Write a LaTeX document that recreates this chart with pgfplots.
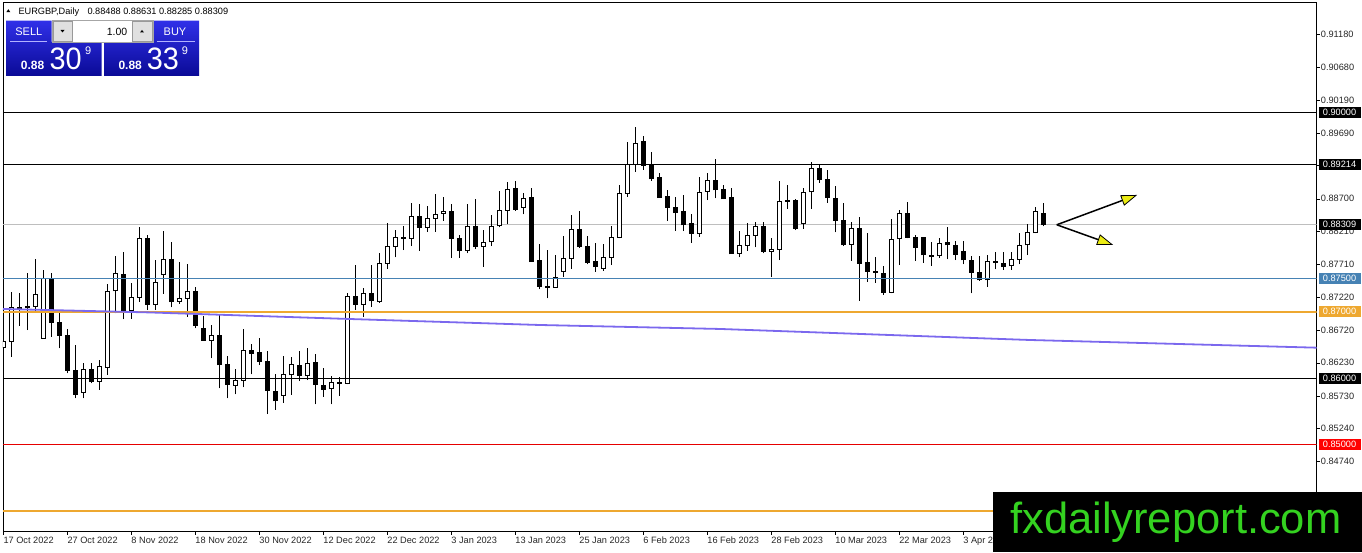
\documentclass[border=0pt]{standalone}
\usepackage{fontspec}
\setmainfont{Liberation Sans}
\usepackage{pgfplots}
\pgfplotsset{compat=1.18}
\usepackage{pgfplotstable}
\usetikzlibrary{arrows.meta}

\definecolor{steel}{RGB}{70,130,180}
\definecolor{orng}{RGB}{238,168,48}
\definecolor{redl}{RGB}{230,0,0}
\definecolor{mslate}{RGB}{123,104,238}
\definecolor{silv}{RGB}{190,190,190}
\definecolor{btop}{RGB}{48,48,232}
\definecolor{bbot}{RGB}{10,10,150}
\definecolor{wmgreen}{RGB}{52,210,32}
\definecolor{arrowyel}{RGB}{235,235,20}

\newcommand\lab{\fontsize{9.2}{11}\selectfont}

% i  open  high  low  close
\pgfplotstableread{
i O H L C
0 0.86463 0.86850 0.85771 0.86549
1 0.86549 0.87302 0.86323 0.87066
2 0.87066 0.87277 0.86785 0.87051
3 0.87086 0.87578 0.86724 0.87056
4 0.87076 0.87789 0.87016 0.87267
5 0.86599 0.87628 0.86599 0.87497
6 0.87497 0.87578 0.86624 0.86835
7 0.86840 0.86975 0.86448 0.86639
8 0.86649 0.86740 0.86072 0.86112
9 0.86122 0.86499 0.85695 0.85756
10 0.85781 0.86233 0.85695 0.86137
11 0.86137 0.86223 0.85921 0.85946
12 0.85946 0.86273 0.85821 0.86172
13 0.86162 0.87412 0.86047 0.87312
14 0.87312 0.87839 0.86975 0.87578
15 0.87568 0.87904 0.86885 0.87016
16 0.87016 0.87437 0.86895 0.87216
17 0.87216 0.88281 0.87151 0.88105
18 0.88105 0.88155 0.87026 0.87111
19 0.87111 0.87779 0.87026 0.87442
20 0.87563 0.88215 0.87267 0.87789
21 0.87789 0.88050 0.87066 0.87151
22 0.87156 0.87743 0.87116 0.87201
23 0.87201 0.87718 0.86925 0.87312
24 0.87312 0.87377 0.86750 0.86790
25 0.86755 0.86940 0.86564 0.86564
26 0.86564 0.86800 0.86298 0.86644
27 0.86649 0.86965 0.85846 0.86197
28 0.86212 0.86333 0.85695 0.85906
29 0.85891 0.86132 0.85756 0.85966
30 0.85961 0.86740 0.85861 0.86418
31 0.86418 0.86509 0.86057 0.86368
32 0.86383 0.86599 0.86197 0.86248
33 0.86258 0.86408 0.85459 0.85811
34 0.85806 0.86057 0.85520 0.85655
35 0.85736 0.86333 0.85630 0.86057
36 0.86047 0.86323 0.85746 0.86207
37 0.86192 0.86408 0.85956 0.86037
38 0.86042 0.86458 0.85971 0.86222
39 0.86243 0.86368 0.85605 0.85906
40 0.85896 0.86147 0.85720 0.85831
41 0.85846 0.86032 0.85605 0.85936
42 0.85941 0.86012 0.85736 0.85921
43 0.85921 0.87287 0.85906 0.87226
44 0.87236 0.87703 0.87026 0.87106
45 0.87106 0.87362 0.86925 0.87277
46 0.87277 0.87703 0.87076 0.87161
47 0.87151 0.87879 0.87136 0.87728
48 0.87728 0.88341 0.87643 0.87979
49 0.87979 0.88230 0.87819 0.88120
50 0.88120 0.88291 0.87929 0.88100
51 0.88105 0.88632 0.87989 0.88441
52 0.88441 0.88617 0.87919 0.88271
53 0.88271 0.88592 0.88205 0.88406
54 0.88406 0.88773 0.88205 0.88471
55 0.88481 0.88722 0.88371 0.88517
56 0.88517 0.88617 0.87814 0.88100
57 0.88110 0.88155 0.87814 0.87919
58 0.87919 0.88617 0.87879 0.88291
59 0.88291 0.88697 0.87944 0.87979
60 0.87979 0.88230 0.87678 0.88050
61 0.88050 0.88456 0.87989 0.88291
62 0.88291 0.88818 0.88271 0.88527
63 0.88527 0.88948 0.88316 0.88848
64 0.88858 0.88968 0.88517 0.88542
65 0.88567 0.88783 0.88466 0.88707
66 0.88722 0.88858 0.87753 0.87753
67 0.87768 0.88015 0.87337 0.87377
68 0.87387 0.87929 0.87201 0.87367
69 0.87362 0.87854 0.87362 0.87513
70 0.87603 0.88140 0.87528 0.87804
71 0.87804 0.88456 0.87643 0.88245
72 0.88245 0.88517 0.87964 0.87979
73 0.87989 0.88140 0.87713 0.87738
74 0.87753 0.88040 0.87603 0.87678
75 0.87648 0.88020 0.87618 0.87819
76 0.87819 0.88291 0.87703 0.88120
77 0.88115 0.88908 0.88105 0.88783
78 0.88783 0.89551 0.88732 0.89219
79 0.89219 0.89777 0.89109 0.89536
80 0.89571 0.89646 0.89134 0.89199
81 0.89219 0.89410 0.88973 0.88998
82 0.89018 0.89084 0.88717 0.88717
83 0.88732 0.88833 0.88366 0.88567
84 0.88577 0.88732 0.88220 0.88491
85 0.88517 0.88758 0.88215 0.88306
86 0.88326 0.88466 0.88040 0.88180
87 0.88180 0.89024 0.88130 0.88798
88 0.88808 0.89094 0.88682 0.88983
89 0.88983 0.89295 0.88707 0.88833
90 0.88848 0.88908 0.88697 0.88697
91 0.88727 0.88858 0.87869 0.87869
92 0.87879 0.88220 0.87819 0.87999
93 0.87999 0.88341 0.87919 0.88150
94 0.88150 0.88346 0.87969 0.88286
95 0.88291 0.88346 0.87879 0.87904
96 0.87909 0.88105 0.87528 0.87944
97 0.87939 0.88968 0.87778 0.88667
98 0.88682 0.88908 0.88552 0.88657
99 0.88682 0.88697 0.88230 0.88255
100 0.88331 0.88858 0.88250 0.88803
101 0.88803 0.89260 0.88552 0.89159
102 0.89159 0.89219 0.88943 0.88983
103 0.88998 0.89134 0.88642 0.88717
104 0.88712 0.88893 0.88195 0.88371
105 0.88381 0.88632 0.87989 0.88004
106 0.88014 0.88346 0.87768 0.88261
107 0.88261 0.88421 0.87166 0.87728
108 0.87738 0.88180 0.87452 0.87603
109 0.87608 0.87829 0.87437 0.87593
110 0.87578 0.87688 0.87252 0.87287
111 0.87287 0.88396 0.87277 0.88095
112 0.88095 0.88532 0.87703 0.88482
113 0.88482 0.88657 0.88105 0.88115
114 0.88120 0.88155 0.87764 0.87969
115 0.88120 0.88130 0.87738 0.87854
116 0.87854 0.88055 0.87693 0.87834
117 0.87839 0.88105 0.87813 0.88030
118 0.88040 0.88271 0.87789 0.88004
119 0.88004 0.88070 0.87778 0.87864
120 0.87914 0.88065 0.87713 0.87778
121 0.87778 0.87838 0.87276 0.87593
122 0.87593 0.87838 0.87467 0.87477
123 0.87477 0.87848 0.87377 0.87763
124 0.87763 0.87904 0.87638 0.87743
125 0.87733 0.87904 0.87628 0.87678
126 0.87688 0.87899 0.87628 0.87793
127 0.87788 0.88180 0.87713 0.88004
128 0.88004 0.88321 0.87853 0.88190
129 0.88190 0.88582 0.88180 0.88506
130 0.88488 0.88631 0.88285 0.88309
}\candles

\begin{document}
\begin{tikzpicture}
\useasboundingbox (0pt,0pt) rectangle (1362pt,552pt);
\begin{axis}[
  at={(3pt,20.3pt)}, anchor=south west,
  width=1313.7pt, height=529pt, scale only axis,
  xmin=-0.04, xmax=164.2, ymin=0.836867, ymax=0.916536,
  axis line style={black, line width=0.8pt},
  xtick={0,8,...,128},
  xticklabels={17 Oct 2022,27 Oct 2022,8 Nov 2022,18 Nov 2022,30 Nov 2022,12 Dec 2022,22 Dec 2022,3 Jan 2023,13 Jan 2023,25 Jan 2023,6 Feb 2023,16 Feb 2023,28 Feb 2023,10 Mar 2023,22 Mar 2023,3 Apr 2023,{}},
  ytick={0.9118,0.9068,0.9019,0.8969,0.8920,0.8870,0.8821,0.8771,0.8722,0.8672,0.8623,0.8573,0.8524,0.8474},
  yticklabels={0.91180,0.90680,0.90190,0.89690,0.89200,0.88700,0.88210,0.87710,0.87220,0.86720,0.86230,0.85730,0.85240,0.84740},
  xtick pos=left, ytick pos=right, yticklabel pos=right,
  tick align=outside, major tick length=3pt,
  tick style={black, line width=0.6pt},
  xticklabel style={anchor=north west, inner sep=0pt, yshift=-2pt, font=\lab, text=black!85},
  yticklabel style={anchor=west, inner sep=0pt, xshift=1pt, font=\lab, text=black!85},
]
% current price line
\addplot[silv, line width=0.8pt] coordinates {(-0.04,0.88309) (164.2,0.88309)};
% wicks
\addplot[draw=none, mark=none,
  error bars/.cd, y dir=plus, y explicit, error mark=none,
  error bar style={draw=black, line width=0.9pt}]
  table[x=i, y=L, y error plus expr=\thisrow{H}-\thisrow{L}] {\candles};
% bodies (black outline / black body)
\addplot[draw=none, mark=none,
  error bars/.cd, y dir=plus, y explicit, error mark=none,
  error bar style={draw=black, line width=5pt}]
  table[x=i, y expr={min(\thisrow{O},\thisrow{C})-0.00005},
        y error plus expr={max(abs(\thisrow{C}-\thisrow{O}),0.00005)+0.0001}] {\candles};
% white interiors of bull candles
\addplot[draw=none, mark=none,
  error bars/.cd, y dir=plus, y explicit, error mark=none,
  error bar style={draw=white, line width=3.2pt}]
  table[x=i, y expr={\thisrow{O}+0.0001},
        y error plus expr={max(\thisrow{C}-\thisrow{O}-0.0002,0)}] {\candles};
% horizontal levels
\addplot[black, line width=1.8pt] coordinates {(-0.04,0.9) (164.2,0.9)};
\addplot[black, line width=0.9pt] coordinates {(-0.04,0.89214) (164.2,0.89214)};
\addplot[steel, line width=1.8pt] coordinates {(-0.04,0.875) (164.2,0.875)};
\addplot[orng, line width=1.8pt] coordinates {(-0.04,0.87) (164.2,0.87)};
\addplot[black, line width=0.9pt] coordinates {(-0.04,0.86) (164.2,0.86)};
\addplot[redl, line width=0.9pt] coordinates {(-0.04,0.85) (164.2,0.85)};
\addplot[orng, line width=1.8pt] coordinates {(-0.04,0.84) (164.2,0.84)};
% moving average style line
\addplot[mslate, line width=1.8pt] coordinates {(-0.04,0.87041) (18.3,0.86989) (43.3,0.86890) (67,0.86800) (89.6,0.86740) (128.3,0.86574) (164.2,0.86458)};
% arrows
\draw[black, line width=1.5pt, -{Triangle[length=16pt,width=11pt,fill=arrowyel,line width=0.8pt]}]
  (axis cs:131.7,0.88309) -- (axis cs:141.75,0.88758);
\draw[black, line width=1.5pt, -{Triangle[length=16pt,width=11pt,fill=arrowyel,line width=0.8pt]}]
  (axis cs:131.7,0.88309) -- (axis cs:138.75,0.88005);
% anchors for price tags
\coordinate (t1) at (axis cs:164.2,0.9);
\coordinate (t2) at (axis cs:164.2,0.89214);
\coordinate (t3) at (axis cs:164.2,0.88309);
\coordinate (t4) at (axis cs:164.2,0.875);
\coordinate (t5) at (axis cs:164.2,0.87);
\coordinate (t6) at (axis cs:164.2,0.86);
\coordinate (t7) at (axis cs:164.2,0.85);
\end{axis}

% price tags on the scale
\tikzset{tag/.style={anchor=west, xshift=1.6pt, text=white, font=\lab, inner sep=0pt, minimum width=42pt, minimum height=11pt}}
\node[tag, fill=black] at (t1) {0.90000};
\node[tag, fill=black] at (t2) {0.89214};
\node[tag, fill=black] at (t3) {0.88309};
\node[tag, fill=steel] at (t4) {0.87500};
\node[tag, fill=orng] at (t5) {0.87000};
\node[tag, fill=black] at (t6) {0.86000};
\node[tag, fill=red] at (t7) {0.85000};

% header
\fill[black] (6.3pt,539.8pt) -- (10.3pt,539.8pt) -- (8.3pt,542.8pt) -- cycle;
\node[anchor=base west, inner sep=0pt, font=\lab] at (18.3pt,537.3pt) {EURGBP,Daily};
\node[anchor=base west, inner sep=0pt, font=\lab] at (87.3pt,537.3pt) {0.88488 0.88631 0.88285 0.88309};

% one-click trading panel
\shade[top color=btop, bottom color=bbot] (6pt,531.3pt) -- (51.7pt,531.3pt) -- (51.7pt,510pt) -- (101.7pt,510pt) -- (101.7pt,476pt) -- (6pt,476pt) -- cycle;
\shade[top color=btop, bottom color=bbot] (153.3pt,531.3pt) -- (199pt,531.3pt) -- (199pt,476pt) -- (104.3pt,476pt) -- (104.3pt,510pt) -- (153.3pt,510pt) -- cycle;
\draw[fill=white, draw=black!35] (51.7pt,531.3pt) rectangle (153.3pt,510pt);
\draw[fill=black!12, draw=black!40] (53.3pt,530.3pt) rectangle (71.7pt,511pt);
\draw[fill=black!12, draw=black!40] (132.3pt,530.3pt) rectangle (151.7pt,511pt);
\fill[black] (60.5pt,522pt) -- (64.5pt,522pt) -- (62.5pt,519.5pt) -- cycle;
\fill[black] (140pt,519.5pt) -- (144pt,519.5pt) -- (142pt,522pt) -- cycle;
\node[anchor=base east, inner sep=0pt, font=\fontsize{10.5}{12}\selectfont] at (127.5pt,516.5pt) {1.00};
\draw[white!70!blue, line width=0.7pt] (10pt,510.3pt) -- (47.3pt,510.3pt);
\draw[white!70!blue, line width=0.7pt] (156.7pt,510.3pt) -- (195pt,510.3pt);
\node[anchor=base, inner sep=0pt, text=white, font=\fontsize{11}{12}\selectfont] at (28.8pt,516.5pt) {SELL};
\node[anchor=base, inner sep=0pt, text=white, font=\fontsize{11}{12}\selectfont] at (175pt,516.5pt) {BUY};
\node[anchor=base west, inner sep=0pt, text=white, font=\bfseries\fontsize{12}{12}\selectfont] at (20.7pt,482.7pt) {0.88};
\node[anchor=base west, inner sep=0pt, text=white, font=\fontsize{31}{31}\selectfont] at (49.3pt,482pt) {\scalebox{0.93}[1]{30}};
\node[anchor=base west, inner sep=0pt, text=white, font=\fontsize{11}{12}\selectfont] at (85pt,497pt) {9};
\node[anchor=base west, inner sep=0pt, text=white, font=\bfseries\fontsize{12}{12}\selectfont] at (118.3pt,482.7pt) {0.88};
\node[anchor=base west, inner sep=0pt, text=white, font=\fontsize{31}{31}\selectfont] at (146.7pt,482pt) {\scalebox{0.93}[1]{33}};
\node[anchor=base west, inner sep=0pt, text=white, font=\fontsize{11}{12}\selectfont] at (181.7pt,497pt) {9};

% watermark
\fill[black] (993.3pt,0pt) rectangle (1362pt,60.3pt);
\node[anchor=base west, inner sep=0pt, text=wmgreen, font=\fontsize{43.5}{44}\selectfont] at (1010pt,18.7pt) {fxdailyreport.com};
\end{tikzpicture}
\end{document}
